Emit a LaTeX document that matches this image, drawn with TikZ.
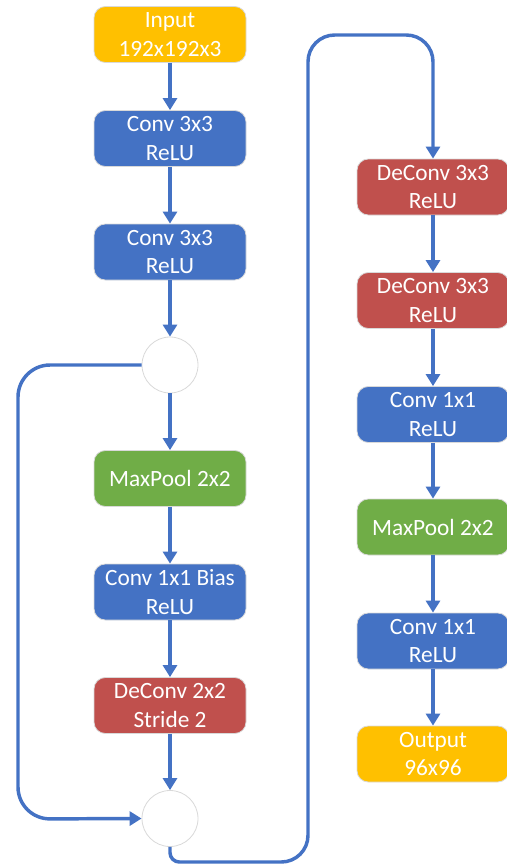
\documentclass[tikz,border=0pt]{standalone}
\usepackage{fontspec}
\setmainfont{Carlito}
\usetikzlibrary{arrows.meta}
\definecolor{cyellow}{HTML}{FFC000}
\definecolor{cblue}{HTML}{4472C4}
\definecolor{cred}{HTML}{C0504D}
\definecolor{cgreen}{HTML}{70AD47}
\definecolor{cline}{HTML}{4472C4}
\definecolor{cborder}{HTML}{D9D9D9}
\begin{document}
\begin{tikzpicture}[x=0.75pt,y=-0.75pt,
  blk/.style={rounded corners=8.5pt, draw=cborder, line width=0.6pt, text=white,
    minimum width=114pt, minimum height=42pt, inner sep=0pt, align=center,
    font=\fontsize{17.5}{21.5}\selectfont},
  yel/.style={blk, fill=cyellow},
  blu/.style={blk, fill=cblue},
  rd/.style={blk, fill=cred},
  grn/.style={blk, fill=cgreen},
  junc/.style={circle, draw=cborder, fill=white, line width=0.6pt, minimum size=42pt, inner sep=0pt},
  conn/.style={draw=cline, line width=2.6pt},
  arr/.style={conn, -{Triangle[width=10.5pt,length=9pt]}}
]
\useasboundingbox (0,0) rectangle (507,865);
% left column
\node[yel] (in) at (170,34.5) {Input\\192x192x3};
\node[blu] (c1) at (170,138.5) {Conv 3x3\\ReLU};
\node[blu] (c2) at (170,252) {Conv 3x3\\ReLU};
\node[junc] (j1) at (170,365) {};
\node[grn] (mp1) at (170,478.5) {MaxPool 2x2};
\node[blu] (cb) at (170,592) {Conv 1x1 Bias\\ReLU};
\node[rd] (dc) at (170,705.5) {DeConv 2x2\\Stride 2};
\node[junc] (j2) at (170,818.5) {};
% right column
\node[rd] (d1) at (433,187) {DeConv 3x3\\ReLU};
\node[rd] (d2) at (433,300.5) {DeConv 3x3\\ReLU};
\node[blu] (r1) at (433,414.5) {Conv 1x1\\ReLU};
\node[grn] (mp2) at (433,527) {MaxPool 2x2};
\node[blu] (r2) at (433,641) {Conv 1x1\\ReLU};
\node[yel] (out) at (433,754) {Output\\96x96};
% coordinates for loops
\coordinate (lA) at (18,365);
\coordinate (lB) at (18,819);
\coordinate (bA) at (170,862);
\coordinate (bB) at (308,862);
\coordinate (tA) at (308,35);
\coordinate (tB) at (433,35);
% straight arrows
\draw[arr] (in) -- (c1);
\draw[arr] (c1) -- (c2);
\draw[arr] (c2) -- (j1);
\draw[arr] (j1) -- (mp1);
\draw[arr] (mp1) -- (cb);
\draw[arr] (cb) -- (dc);
\draw[arr] (dc) -- (j2);
\draw[arr] (d1) -- (d2);
\draw[arr] (d2) -- (r1);
\draw[arr] (r1) -- (mp2);
\draw[arr] (mp2) -- (r2);
\draw[arr] (r2) -- (out);
% skip loop
\draw[arr, rounded corners=24pt] (j1.west) -- (lA) -- (lB) -- (j2.west);
% long loop to right column
\draw[arr, rounded corners=7pt] (j2.south) -- (bA) [rounded corners=20pt] -- (bB) -- (tA) -- (tB) -- (d1.north);
\end{tikzpicture}
\end{document}
